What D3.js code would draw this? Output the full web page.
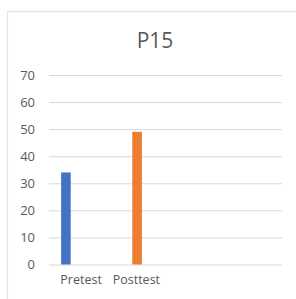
<!DOCTYPE html>
<html>
<head>
<meta charset="utf-8">
<script src="https://cdn.jsdelivr.net/npm/d3@7"></script>
<style>
  body { margin: 0; background: #fff; }
  text { font-family: "Open Sans", "Noto Sans", sans-serif; fill: #595959; }
</style>
</head>
<body>
<div id="chart"></div>
<script>
const title = 'P15'
const categories = ['Pretest', 'Posttest']
const values = [34, 49]
const colors = ['#4472c4', '#ed7d31']
const yTicks = [0, 10, 20, 30, 40, 50, 60, 70]
const labelSlots = ['Pretest', 'Posttest', '', ' '] // category axis has two empty slots

const W = 296, H = 299
const box = { x: 7.5, y: 11.5, w: 300, h: 300 } // chart area border
const plot = { left: 49, right: 282, top: 75, bottom: 264.5 }

const svg = d3.select('#chart').append('svg')
    .attr('width', W)
    .attr('height', H)

// chart area outline (only left + top visible in crop)
svg.append('rect')
    .attr('x', box.x).attr('y', box.y)
    .attr('width', box.w).attr('height', box.h)
    .attr('fill', 'none')
    .attr('stroke', '#e3e3e3')
    .attr('stroke-width', 1.2)

svg.append('text')
    .attr('x', 155)
    .attr('y', 48)
    .attr('text-anchor', 'middle')
    .style('font-size', '21px')
    .text(title)

const y = d3.scaleLinear().domain([0, 70]).range([plot.bottom, plot.top])

// bars sit in 71px wide slots starting left of the gridlines' start
const x = d3.scaleBand()
    .domain(categories)
    .range([30.5, 172.5])
    .paddingInner(0.865)
    .paddingOuter(0.43)

// labels follow the 4-slot category axis
const xl = d3.scaleBand()
    .domain(labelSlots)
    .range([plot.left, plot.right])

const yAxis = d3.axisLeft(y)
    .tickValues(yTicks)
    .tickSize(-(plot.right - plot.left))
    .tickPadding(14)

const gy = svg.append('g')
    .attr('transform', `translate(${plot.left},0)`)
    .call(yAxis)
gy.select('.domain').remove()
gy.selectAll('.tick line').attr('stroke', '#d9d9d9')
gy.selectAll('.tick text').style('font-size', '13px').attr('fill', '#595959')

svg.append('g')
    .selectAll('rect')
    .data(values)
    .enter()
    .append('rect')
    .attr('x', (d, i) => x(categories[i]))
    .attr('width', x.bandwidth())
    .attr('y', d => y(d))
    .attr('height', d => y(0) - y(d))
    .attr('fill', (d, i) => colors[i])

svg.append('g')
    .selectAll('text')
    .data(categories)
    .enter()
    .append('text')
    .attr('x', (d, i) => xl(d) + xl.bandwidth() / 2 + (i == 0 ? 3 : 0))
    .attr('y', 284)
    .attr('text-anchor', 'middle')
    .style('font-size', '12.5px')
    .text(d => d)
</script>
</body>
</html>
